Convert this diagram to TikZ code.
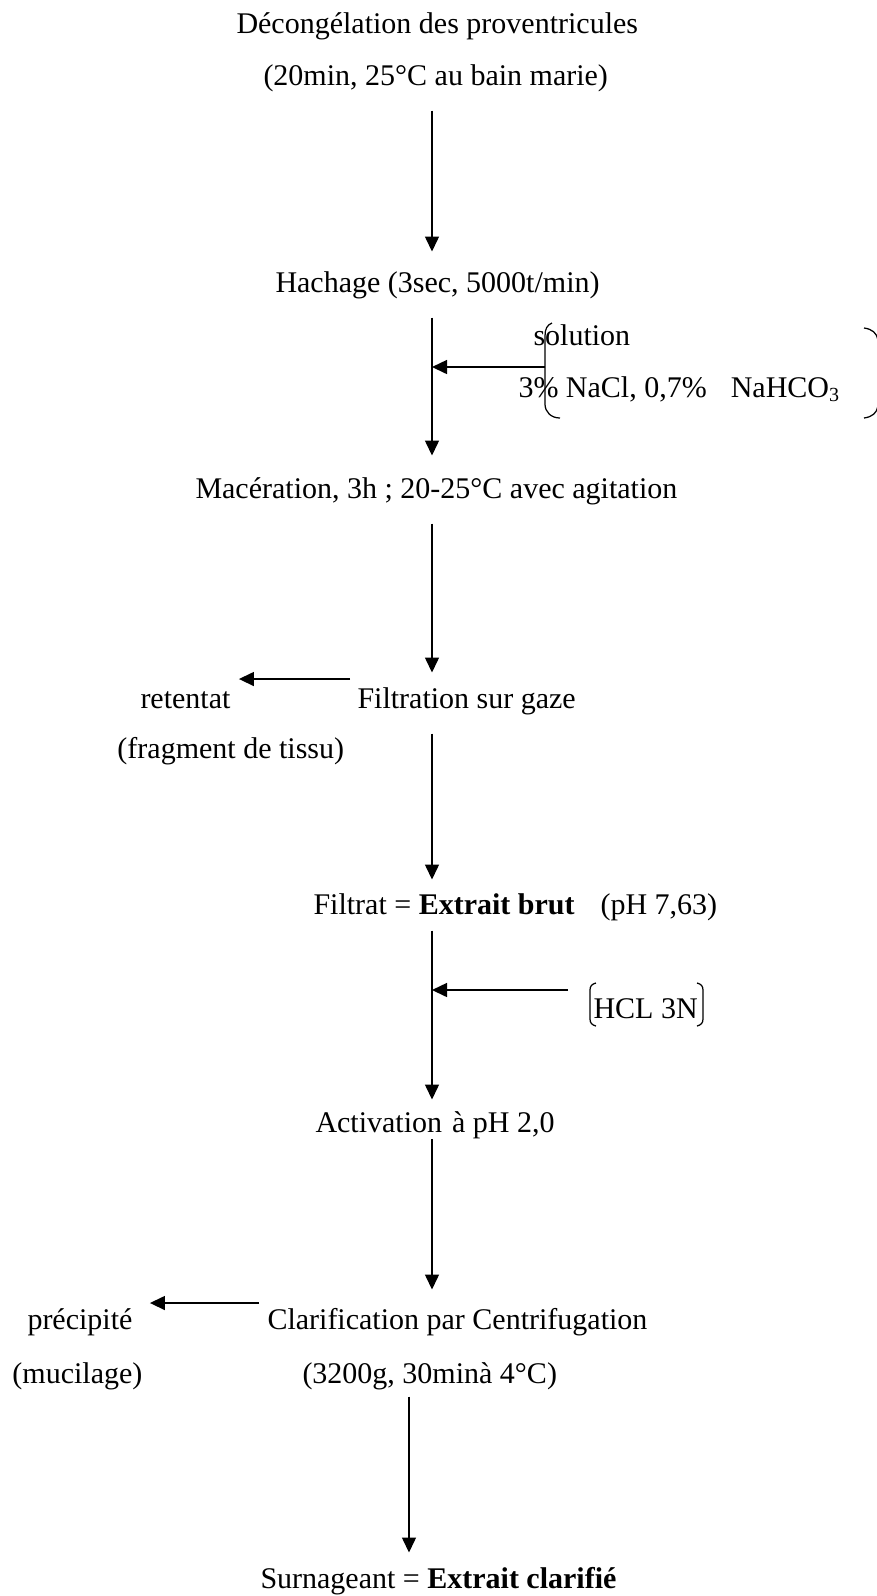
\documentclass[tikz,border=0pt]{standalone}
\usepackage{fontspec}
\setmainfont{Liberation Serif}
\usetikzlibrary{arrows.meta}
\begin{document}
\begin{tikzpicture}[x=0.4pt, y=-0.4pt,
    lbl/.style={inner sep=0pt, anchor=base west, text height=8.4pt, text depth=2.6pt,
      font=\fontsize{12pt}{14pt}\selectfont},
    flow/.style={-{Triangle[width=5.6pt, length=6pt]}, line width=0.6pt},
    brk/.style={line width=0.5pt}]
  \useasboundingbox (0,0) rectangle (876,1596);

  \node[lbl] (dec1) at (236,33) {Décongélation des proventricules};
  \node[lbl] (dec2) at (263,85) {(20min, 25°C au bain marie)};
  \node[lbl] (hach) at (275,292) {Hachage (3sec, 5000t/min)};
  \node[lbl] (solt) at (533,345) {solution};
  \node[lbl] (sol) at (518,397) {3\% NaCl, 0,7\%\hspace{9.6pt}NaHCO\textsubscript{3}};
  \node[lbl] (mac) at (195,498) {Macération, 3h ; 20-25°C avec agitation};
  \node[lbl] (ret) at (140,708) {retentat};
  \node[lbl] (filt) at (357,708) {Filtration sur gaze};
  \node[lbl] (frag) at (117,758) {(fragment de tissu)};
  \node[lbl] (brut) at (313,914) {Filtrat = \textbf{Extrait brut}\hspace{10.4pt}(pH 7,63)};
  \node[lbl] (hcl) at (593,1018) {HCL 3N};
  \node[lbl] (act) at (315,1132) {Activation\hspace{4pt}à pH 2,0};
  \node[lbl] (prec) at (27,1329) {précipité};
  \node[lbl] (clar) at (267,1329) {Clarification par Centrifugation};
  \node[lbl] (muc) at (12,1383) {(mucilage)};
  \node[lbl] (cent) at (302,1383) {(3200g, 30minà 4°C)};
  \node[lbl] (surn) at (260,1588) {Surnageant = \textbf{Extrait clarifié}};

  \coordinate (axis) at (432,0);
  \coordinate (axis2) at (409,0);
  \coordinate (brl) at (545,367);
  \coordinate (j1) at (432,367);
  \coordinate (j2) at (432,990);
  \coordinate (r3) at (0,679);
  \coordinate (r6) at (0,1303);

  % main line
  \draw[flow, shorten <=7.4pt, shorten >=7.6pt] (dec2.south -| axis) -- (hach.north -| axis);
  \draw[flow, shorten <=7.4pt, shorten >=8.4pt] (hach.south -| axis) -- (mac.north -| axis);
  \draw[flow, shorten <=7.4pt, shorten >=5.6pt] (mac.south -| axis) -- (filt.north -| axis);
  \draw[flow, shorten <=7.4pt, shorten >=5.2pt] (filt.south -| axis) -- (brut.north -| axis);
  \draw[flow, shorten <=3.8pt, shorten >=4.4pt] (brut.south -| axis) -- (act.north -| axis);
  \draw[flow, shorten >=7.2pt] (act.south -| axis) -- (clar.north -| axis);
  \draw[flow, shorten <=2.6pt, shorten >=5.6pt] (cent.south -| axis2) -- (surn.north -| axis2);

  % side arrows
  \draw[flow] (brl) -- (j1);
  \draw[flow, shorten <=2.8pt, shorten >=3.2pt] (filt.west |- r3) -- (ret.east |- r3);
  \draw[flow, shorten <=10pt] (hcl.west |- j2) -- (j2);
  \draw[flow, shorten <=3.2pt, shorten >=6.8pt] (clar.west |- r6) -- (prec.east |- r6);

  % brackets
  \draw[brk] (552,323) .. controls (547,325) and (545,329) .. (545,336) -- (545,404)
    .. controls (545,412) and (551,418) .. (560,418);
  \draw[brk] (864,328) .. controls (872,329) and (877,333) .. (878,340) -- (878,406)
    .. controls (877,413) and (872,417) .. (864,418);
  \draw[brk] (596,983) .. controls (592,984) and (590,986) .. (590,990) -- (590,1019)
    .. controls (590,1023) and (592,1025) .. (596,1026);
  \draw[brk] (697,983) .. controls (701,984) and (703,986) .. (703,990) -- (703,1019)
    .. controls (703,1023) and (701,1025) .. (697,1026);
\end{tikzpicture}
\end{document}
